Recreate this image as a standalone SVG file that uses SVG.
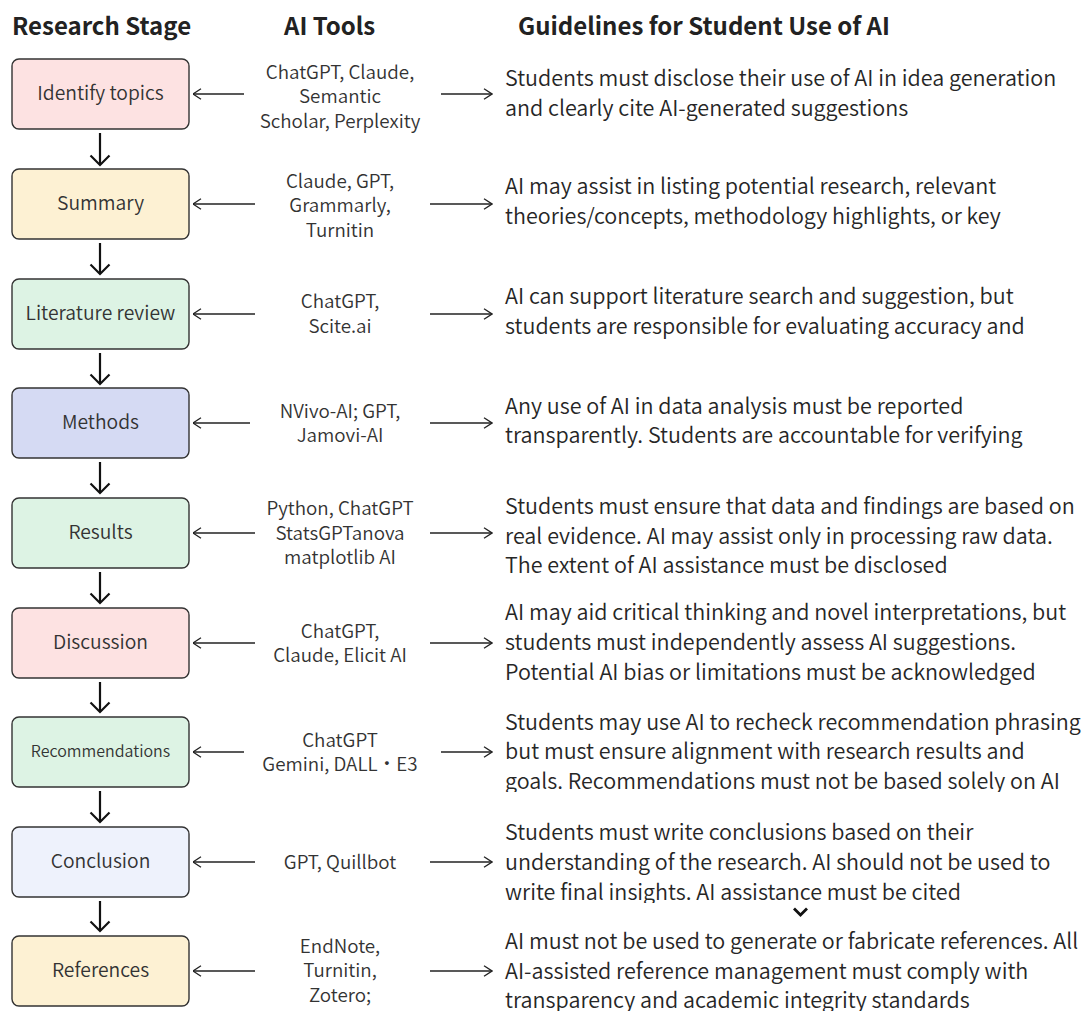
<svg xmlns="http://www.w3.org/2000/svg" width="1088" height="1017" viewBox="0 0 1088 1017">
<style>
  text { font-family: "Noto Sans CJK SC", "Noto Sans", "Liberation Sans", sans-serif; }
  .hdr { font-size: 24px; font-weight: bold; fill: #222; }
  .box { stroke: #333; stroke-width: 1.4; }
  .lbl { font-size: 19.3px; font-weight: 350; fill: #333; text-anchor: middle; }
  .tool { font-size: 18.8px; font-weight: 350; fill: #333; text-anchor: middle; }
  .gd { font-size: 21.5px; font-weight: 350; fill: #262626; }
  .pink { fill: #fde2e2; }
  .yel { fill: #fdf1d3; }
  .grn { fill: #ddf3e4; }
  .lav { fill: #d5daf3; }
  .blu { fill: #eef2fc; }
  .h { stroke: #222; stroke-width: 1.3; fill: none; marker-end: url(#ah); }
  .v { stroke: #111; stroke-width: 2.2; fill: none; marker-end: url(#ahd); }
</style>
<defs>
  <marker id="ah" viewBox="0 0 10 12" refX="9.5" refY="6" markerWidth="10" markerHeight="12" markerUnits="userSpaceOnUse" orient="auto">
    <path d="M1.5,0.8 L9.5,6 L1.5,11.2" fill="none" stroke="#222" stroke-width="1.3"/>
  </marker>
  <marker id="ahd" viewBox="0 0 22 22" refX="20" refY="11" markerWidth="22" markerHeight="22" markerUnits="userSpaceOnUse" orient="auto">
    <path d="M10.5,1.5 L20,11 L10.5,20.5" fill="none" stroke="#111" stroke-width="2.2"/>
  </marker>
  <clipPath id="c7"><rect x="495" y="700" width="593" height="92"/></clipPath>
  <clipPath id="c8"><rect x="495" y="810" width="593" height="93"/></clipPath>
  <clipPath id="c9"><rect x="495" y="920" width="593" height="91"/></clipPath>
</defs>
<rect width="1088" height="1017" fill="#ffffff"/>

<g id="headers">
  <text class="hdr" x="12" y="35">Research Stage</text>
  <text class="hdr" x="284" y="35">AI Tools</text>
  <text class="hdr" x="518" y="35">Guidelines for Student Use of AI</text>
</g>

<g id="connectors">
  <path class="v" d="M100,133 V165"/>
  <path class="v" d="M100,243 V274"/>
  <path class="v" d="M100,353 V384"/>
  <path class="v" d="M100,462 V493"/>
  <path class="v" d="M100,572 V603"/>
  <path class="v" d="M100,682 V712"/>
  <path class="v" d="M100,791 V822"/>
  <path class="v" d="M100,901 V931"/>

  <path class="h" d="M244,94 H193"/>
  <path class="h" d="M255,204 H193"/>
  <path class="h" d="M255,314 H193"/>
  <path class="h" d="M250,423 H193"/>
  <path class="h" d="M255,533 H193"/>
  <path class="h" d="M255,643 H193"/>
  <path class="h" d="M244,752 H193"/>
  <path class="h" d="M255,862 H193"/>
  <path class="h" d="M255,971 H193"/>

  <path class="h" d="M441,94 H492"/>
  <path class="h" d="M430,204 H492"/>
  <path class="h" d="M430,314 H492"/>
  <path class="h" d="M430,423 H492"/>
  <path class="h" d="M430,533 H492"/>
  <path class="h" d="M430,643 H492"/>
  <path class="h" d="M441,752 H492"/>
  <path class="h" d="M430,862 H492"/>
  <path class="h" d="M430,971 H492"/>

  <path d="M794,908.5 L800.5,915 L807,908.5" fill="none" stroke="#111" stroke-width="2.8"/>
</g>

<g id="n1"><rect class="box pink" x="12" y="59" width="177" height="70" rx="7"/><text class="lbl" x="100.5" y="100">Identify topics</text></g>
<g id="n2"><rect class="box yel" x="12" y="169" width="177" height="70" rx="7"/><text class="lbl" x="100.5" y="210">Summary</text></g>
<g id="n3"><rect class="box grn" x="12" y="279" width="177" height="70" rx="7"/><text class="lbl" x="100.5" y="320">Literature review</text></g>
<g id="n4"><rect class="box lav" x="12" y="388" width="177" height="70" rx="7"/><text class="lbl" x="100.5" y="429">Methods</text></g>
<g id="n5"><rect class="box grn" x="12" y="498" width="177" height="70" rx="7"/><text class="lbl" x="100.5" y="539">Results</text></g>
<g id="n6"><rect class="box pink" x="12" y="608" width="177" height="70" rx="7"/><text class="lbl" x="100.5" y="649">Discussion</text></g>
<g id="n7"><rect class="box grn" x="12" y="717" width="177" height="70" rx="7"/><text class="lbl" x="100.5" y="757" style="font-size:16px">Recommendations</text></g>
<g id="n8"><rect class="box blu" x="12" y="827" width="177" height="70" rx="7"/><text class="lbl" x="100.5" y="868">Conclusion</text></g>
<g id="n9"><rect class="box yel" x="12" y="936" width="177" height="70" rx="7"/><text class="lbl" x="100.5" y="977">References</text></g>

<g id="tools">
  <text class="tool" x="340" y="79">ChatGPT, Claude,</text>
  <text class="tool" x="340" y="103">Semantic</text>
  <text class="tool" x="340" y="128">Scholar, Perplexity</text>
  <text class="tool" x="340" y="188">Claude, GPT,</text>
  <text class="tool" x="340" y="212">Grammarly,</text>
  <text class="tool" x="340" y="237">Turnitin</text>
  <text class="tool" x="340" y="308">ChatGPT,</text>
  <text class="tool" x="340" y="333">Scite.ai</text>
  <text class="tool" x="340" y="418">NVivo-AI; GPT,</text>
  <text class="tool" x="340" y="442">Jamovi-AI</text>
  <text class="tool" x="340" y="515">Python, ChatGPT</text>
  <text class="tool" x="340" y="540">StatsGPTanova</text>
  <text class="tool" x="340" y="564">matplotlib AI</text>
  <text class="tool" x="340" y="638">ChatGPT,</text>
  <text class="tool" x="340" y="662">Claude, Elicit AI</text>
  <text class="tool" x="340" y="747">ChatGPT</text>
  <text class="tool" x="340" y="771">Gemini, DALL・E3</text>
  <text class="tool" x="340" y="869">GPT, Quillbot</text>
  <text class="tool" x="340" y="953">EndNote,</text>
  <text class="tool" x="340" y="977">Turnitin,</text>
  <text class="tool" x="340" y="1002">Zotero;</text>
</g>

<g id="guidelines">
  <text class="gd" x="505" y="86">Students must disclose their use of AI in idea generation</text>
  <text class="gd" x="505" y="116">and clearly cite AI-generated suggestions</text>
  <text class="gd" x="505" y="194">AI may assist in listing potential research, relevant</text>
  <text class="gd" x="505" y="224">theories/concepts, methodology highlights, or key</text>
  <text class="gd" x="505" y="304">AI can support literature search and suggestion, but</text>
  <text class="gd" x="505" y="334">students are responsible for evaluating accuracy and</text>
  <text class="gd" x="505" y="414">Any use of AI in data analysis must be reported</text>
  <text class="gd" x="505" y="443">transparently. Students are accountable for verifying</text>
  <text class="gd" x="505" y="514">Students must ensure that data and findings are based on</text>
  <text class="gd" x="505" y="544">real evidence. AI may assist only in processing raw data.</text>
  <text class="gd" x="505" y="573">The extent of AI assistance must be disclosed</text>
  <text class="gd" x="505" y="620">AI may aid critical thinking and novel interpretations, but</text>
  <text class="gd" x="505" y="650">students must independently assess AI suggestions.</text>
  <text class="gd" x="505" y="680">Potential AI bias or limitations must be acknowledged</text>
  <g clip-path="url(#c7)">
    <text class="gd" x="505" y="730">Students may use AI to recheck recommendation phrasing</text>
    <text class="gd" x="505" y="759">but must ensure alignment with research results and</text>
    <text class="gd" x="505" y="789">goals. Recommendations must not be based solely on AI</text>
  </g>
  <g clip-path="url(#c8)">
    <text class="gd" x="505" y="840">Students must write conclusions based on their</text>
    <text class="gd" x="505" y="870">understanding of the research. AI should not be used to</text>
    <text class="gd" x="505" y="900">write final insights. AI assistance must be cited</text>
  </g>
  <g clip-path="url(#c9)">
    <text class="gd" x="505" y="949">AI must not be used to generate or fabricate references. All</text>
    <text class="gd" x="505" y="979">AI-assisted reference management must comply with</text>
    <text class="gd" x="505" y="1008">transparency and academic integrity standards</text>
  </g>
</g>
</svg>
